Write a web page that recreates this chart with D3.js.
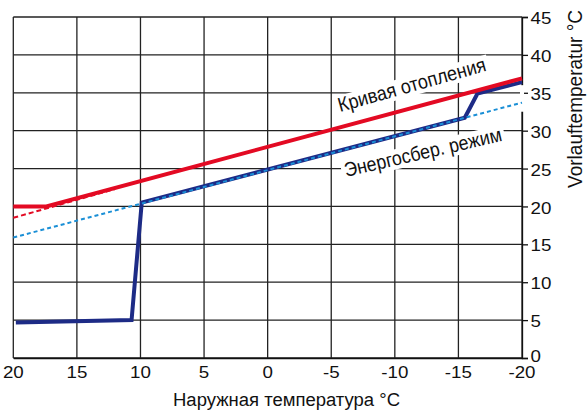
<!DOCTYPE html>
<html>
<head>
<meta charset="utf-8">
<script src="https://cdn.jsdelivr.net/npm/d3@7"></script>
<style>
  html, body { margin: 0; padding: 0; background: #fff; }
  svg { display: block; }
  text { font-family: "Liberation Sans", Arial, sans-serif; fill: #111; }
</style>
</head>
<body>
<svg id="chart" width="587" height="410"></svg>
<script>
// Outside temperature ticks (°C), reversed: warm on the left
const xTicks = [20, 15, 10, 5, 0, -5, -10, -15, -20];
// Flow temperature ticks (°C)
const yTicks = [0, 5, 10, 15, 20, 25, 30, 35, 40, 45];

// Heating curve (solid red): [outside °C, flow °C]
const heatingCurve = [[20, 20], [17.4, 20], [-20, 36.9]];
// Heating curve continued below its floor (dashed red)
const heatingExtension = [[20, 18.5], [12, 22.3]];
// Energy-saving mode (dashed light blue)
const ecoCurve = [[20, 15.9], [-20, 33.7]];
// Actual flow temperature over the day (solid dark blue)
const actualFlow = [[19.8, 4.7], [10.7, 5.0], [9.9, 20.5], [-15.5, 31.7], [-16.5, 34.9], [-20, 36.4]];

const labels = {
  heating: "Кривая отопления",
  eco: "Энергосбер. режим",
  xTitle: "Наружная температура °C",
  yTitle: "Vorlauftemperatur °C"
};

const svg = d3.select("#chart");
const x = d3.scaleLinear().domain([20, -20]).range([13.3, 522]);
const y = d3.scaleLinear().domain([0, 45]).range([358, 17]);
const fmt = d => String(d);   // plain hyphen for negatives

// Grid
const grid = svg.append("g");
grid.selectAll("line.v").data(xTicks).join("line")
  .attr("x1", d => x(d)).attr("x2", d => x(d))
  .attr("y1", y(45)).attr("y2", y(0))
  .attr("stroke", "#222").attr("stroke-width", 1.3);
grid.selectAll("line.h").data(yTicks).join("line")
  .attr("x1", x(20)).attr("x2", x(-20))
  .attr("y1", d => y(d)).attr("y2", d => y(d))
  .attr("stroke", "#222").attr("stroke-width", 1.3);

// Right axis: line and ticks from d3, labels drawn below with a wider face
const yAxis = d3.axisRight(y).tickValues(yTicks).tickSize(6).tickFormat("");
const gy = svg.append("g").attr("transform", `translate(${x(-20)},0)`).call(yAxis);
gy.select(".domain").attr("stroke", "#111").attr("stroke-width", 1.3);
gy.selectAll(".tick line").attr("stroke", "#111").attr("stroke-width", 1.3);

svg.append("g").selectAll("text").data(yTicks).join("text")
  .attr("transform", d => `translate(${x(-20) + 8.5},${y(d) + (d === 0 ? -2 : 1.5)}) scale(1.15,1)`)
  .attr("dominant-baseline", "central")
  .attr("font-size", 16.3)
  .text(fmt);

// Bottom axis line and labels
const xAxis = d3.axisBottom(x).tickValues(xTicks).tickSize(0).tickFormat("");
const gx = svg.append("g").attr("transform", `translate(0,${y(0)})`).call(xAxis);
gx.select(".domain").attr("stroke", "#111").attr("stroke-width", 1.3);

svg.append("g").selectAll("text").data(xTicks).join("text")
  .attr("transform", d => `translate(${x(d)},${y(0) + 14.5}) scale(1.15,1)`)
  .attr("dominant-baseline", "central")
  .attr("text-anchor", "middle")
  .attr("font-size", 16.3)
  .text(fmt);

// Gap in the right axis behind the curve ends
svg.append("rect").attr("x", x(-20) - 2).attr("width", 4)
  .attr("y", y(36.4) + 3).attr("height", y(32.5) - y(36.4) - 3)
  .attr("fill", "#fff");

const line = d3.line().x(d => x(d[0])).y(d => y(d[1]));

svg.append("path").datum(actualFlow).attr("d", line)
  .attr("fill", "none").attr("stroke", "#1d2b86").attr("stroke-width", 4)
  .attr("stroke-linejoin", "miter");
svg.append("path").datum(heatingCurve).attr("d", line)
  .attr("fill", "none").attr("stroke", "#e30a23").attr("stroke-width", 4);
svg.append("path").datum(heatingExtension).attr("d", line)
  .attr("fill", "none").attr("stroke", "#e30a23").attr("stroke-width", 2)
  .attr("stroke-dasharray", "5,3");
svg.append("path").datum(ecoCurve).attr("d", line)
  .attr("fill", "none").attr("stroke", "#1a8fd6").attr("stroke-width", 2)
  .attr("stroke-dasharray", "4,3");

// Curve labels on white boxes, tilted along the curves
function curveLabel(text, px, py, angle, length) {
  const g = svg.append("g").attr("transform", `translate(${px},${py}) rotate(${angle})`);
  const box = g.append("rect").attr("fill", "#fff");
  const t = g.append("text").attr("font-size", 20)
    .attr("textLength", length).attr("lengthAdjust", "spacingAndGlyphs")
    .text(text);
  const b = t.node().getBBox();
  box.attr("x", b.x - 3).attr("y", b.y + 2).attr("width", b.width + 6).attr("height", b.height - 2);
}
curveLabel(labels.heating, 340, 112, -15.7, 153);
curveLabel(labels.eco, 346, 177, -13, 161);

// Axis titles
svg.append("text").attr("x", 173).attr("y", 406)
  .attr("font-size", 18).attr("textLength", 227).attr("lengthAdjust", "spacingAndGlyphs")
  .text(labels.xTitle);
svg.append("text").attr("transform", "translate(582,99) scale(1.15,1) rotate(-90)")
  .attr("text-anchor", "middle").attr("font-size", 17.5)
  .attr("textLength", 178).attr("lengthAdjust", "spacingAndGlyphs")
  .text(labels.yTitle);
</script>
</body>
</html>
